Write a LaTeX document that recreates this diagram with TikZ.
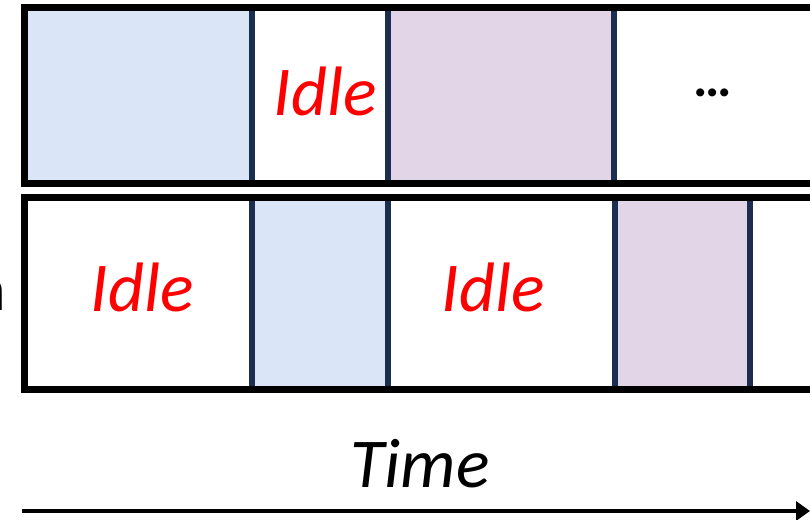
\documentclass[tikz,border=0pt]{standalone}
\usepackage{fontspec}
\setmainfont{Carlito}
\usetikzlibrary{arrows.meta}
\definecolor{segblue}{HTML}{DAE5F7}
\definecolor{segpurple}{HTML}{E1D5E7}
\definecolor{segnavy}{HTML}{1B2E50}
\tikzset{
  seg/.style={draw=segnavy, line width=6pt},
  frame/.style={draw=black, line width=7pt},
  idle/.style={font=\fontsize{70}{70}\selectfont\itshape, text=red, anchor=base, inner sep=0pt},
}
\begin{document}
\begin{tikzpicture}[x=1pt,y=-1pt]
\useasboundingbox (0,0) rectangle (810,519);
% top bar segments
\fill[segblue] (24.5,8) rectangle (252,183.5);
\fill[segpurple] (388,8) rectangle (614,183.5);
\draw[seg] (24.5,8) rectangle (252,183.5);
\draw[seg] (388,8) rectangle (614,183.5);
\draw[frame] (24.5,8) rectangle (814,183.5);
\node[idle] (idletop) at (325.5,115) {Idle};
\node[font=\fontsize{54}{54}\selectfont\bfseries, anchor=base, inner sep=0pt] (dots) at (712.5,96) {…};
% bottom bar segments
\fill[segblue] (252,197.5) rectangle (388,389);
\fill[segpurple] (615,197.5) rectangle (750,389);
\draw[seg] (252,197.5) rectangle (388,389);
\draw[seg] (615,197.5) rectangle (750,389);
\draw[frame] (24.5,197.5) rectangle (814,389);
\node[idle] (idlea) at (142.5,311) {Idle};
\node[idle] (idleb) at (493.5,311) {Idle};
\node[font=\fontsize{64}{64}\selectfont, anchor=base east, inner sep=0pt] (lbl) at (6,310) {n};
% time axis
\node[font=\fontsize{70}{70}\selectfont\itshape, anchor=base, inner sep=0pt] (time) at (420,487) {Time};
\coordinate (tstart) at (22,511);
\coordinate (tend) at (810,511);
\draw[line width=4.5pt, -{Triangle[length=14pt,width=19pt]}] (tstart) -- (tend);
\end{tikzpicture}
\end{document}
